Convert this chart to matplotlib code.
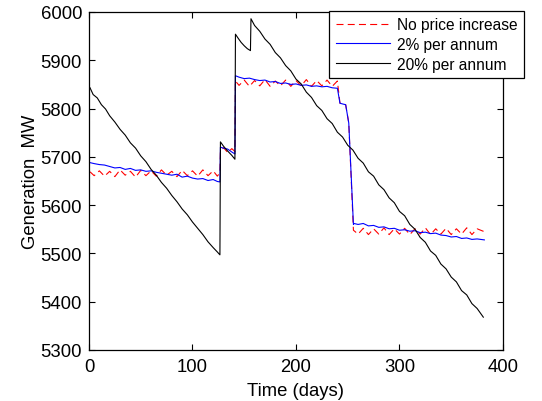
import numpy as np
import matplotlib
matplotlib.use('Agg')
import matplotlib.pyplot as plt

plt.rcParams['font.family'] = ['Liberation Sans', 'DejaVu Sans']

# readings (day, MW)
days_red = [1, 5, 10, 15, 20, 25, 30, 35, 40, 45, 50, 55, 60, 65, 70, 75, 80, 85, 90, 95,
            100, 105, 110, 115, 120, 124, 126.5,
            127, 130, 134, 138, 141,
            141.5, 145, 150, 155, 160, 165, 170, 175, 180, 185, 190, 195, 200, 205, 210,
            215, 220, 225, 230, 235, 240, 242.5, 248, 251, 255.5,
            260, 265, 270, 275, 280, 285, 290, 295, 300, 305, 310, 315, 320, 325, 330,
            335, 340, 345, 350, 355, 360, 365, 370, 375, 382]
mw_red = [5669, 5661, 5671, 5660, 5670, 5659, 5673, 5662, 5670, 5658, 5672, 5661, 5671, 5660,
          5673, 5662, 5670, 5659, 5672, 5661, 5671, 5660, 5673, 5661, 5671, 5660, 5667,
          5710, 5719, 5709, 5717, 5711,
          5857, 5848, 5859, 5846, 5858, 5847, 5860, 5846, 5857, 5847, 5859, 5846, 5858, 5847,
          5860, 5846, 5858, 5847, 5859, 5846, 5857, 5811, 5808, 5770, 5548,
          5540, 5552, 5539, 5551, 5540, 5553, 5539, 5551, 5540, 5552, 5539, 5551, 5540, 5553,
          5539, 5551, 5540, 5552, 5539, 5551, 5540, 5553, 5539, 5551, 5545]

days_blue = [1, 5, 10, 15, 20, 25, 30, 35, 40, 45, 50, 55, 60, 65, 70, 75, 80, 85, 90, 95,
             100, 105, 110, 115, 120, 124, 126.5,
             127, 130, 134, 138, 141,
             141.5, 145, 150, 155, 160, 165, 170, 175, 180, 185, 190, 195, 200, 205, 210,
             215, 220, 225, 230, 235, 240, 242.5, 246, 248, 251, 255.5,
             256, 260, 265, 270, 275, 280, 285, 290, 295, 300, 305, 310, 315, 320, 325, 330,
             335, 340, 345, 350, 355, 360, 365, 370, 375, 382]
mw_blue = [5688, 5686, 5684, 5683, 5680, 5677, 5678, 5674, 5676, 5672, 5673, 5670, 5671, 5668,
           5666, 5664, 5662, 5664, 5658, 5660, 5656, 5654, 5655, 5651, 5653, 5649, 5648,
           5720, 5718, 5716, 5710, 5706,
           5868, 5865, 5862, 5863, 5860, 5858, 5859, 5855, 5856, 5852, 5853, 5850, 5851, 5848,
           5849, 5846, 5847, 5845, 5846, 5843, 5842, 5811, 5809, 5808, 5770, 5560,
           5562, 5560, 5562, 5557, 5558, 5554, 5555, 5551, 5552, 5548, 5549, 5546, 5547, 5543,
           5544, 5541, 5542, 5538, 5537, 5534, 5535, 5531, 5532, 5529, 5530, 5528]

days_black = [1, 4, 8, 12, 16, 20, 25, 30, 35, 40, 45, 50, 55, 60, 65, 70, 75, 80, 85, 90,
              95, 100, 105, 110, 115, 120, 124, 126.5,
              127, 130, 134, 138, 141,
              141.5, 144, 147, 150, 153, 156,
              156.5, 160, 165, 170, 175, 180, 185, 190, 195, 200, 205, 210, 215, 220, 225,
              230, 235, 240, 245, 250, 255, 260, 265, 270, 275, 280, 285, 290, 295, 300, 305,
              310, 315, 320, 325, 330, 335, 340, 345, 350, 355, 360, 365, 370, 375, 381]
mw_black = [5843, 5829, 5822, 5808, 5799, 5785, 5772, 5757, 5745, 5729, 5718, 5702, 5690, 5674,
            5662, 5647, 5635, 5620, 5607, 5592, 5580, 5565, 5552, 5539, 5524, 5512, 5503, 5497,
            5731, 5722, 5712, 5703, 5695,
            5954, 5946, 5937, 5930, 5924, 5920,
            5986, 5972, 5960, 5944, 5933, 5916, 5905, 5889, 5878, 5861, 5851, 5834, 5823, 5806,
            5796, 5779, 5769, 5751, 5741, 5724, 5714, 5697, 5687, 5669, 5660, 5642, 5632, 5615,
            5605, 5587, 5578, 5560, 5550, 5533, 5523, 5505, 5496, 5478, 5468, 5451, 5441, 5423,
            5414, 5396, 5386, 5368]

fig = plt.figure(figsize=(5.42, 4.02), dpi=100)
ax = fig.add_axes([0.1642, 0.1269, 0.7638, 0.8408])

ax.plot(days_red, mw_red, color='red', linestyle=(0, (6.3, 3.8)), linewidth=0.8,
        label='No price increase')
ax.plot(days_blue, mw_blue, color='blue', linewidth=0.8, label='2% per annum')
ax.plot(days_black, mw_black, color='black', linewidth=0.8, label='20% per annum')

ax.set_xlim(0, 400)
ax.set_ylim(5300, 6000)
ax.set_xticks(np.arange(0, 401, 100))
ax.set_yticks(np.arange(5300, 6001, 100))
ax.tick_params(direction='in', length=4, width=0.8, top=True, right=True,
               labelsize=13.3)
ax.tick_params(axis='x', pad=6)
ax.tick_params(axis='y', pad=5)
for s in ax.spines.values():
    s.set_linewidth(0.9)

ax.set_xlabel('Time (days)', fontsize=13.3, labelpad=5)
ax.set_ylabel('Generation  MW', fontsize=13.3, labelpad=1)

leg = ax.legend(loc='upper right', bbox_to_anchor=(524 / 542, 1 - 12 / 402),
                bbox_transform=fig.transFigure, fontsize=11.2, handlelength=3.5,
                handletextpad=0.45, labelspacing=0.3, borderpad=0.4,
                borderaxespad=0, fancybox=False, framealpha=1)
leg.get_frame().set_edgecolor('black')
leg.get_frame().set_linewidth(0.9)

fig.savefig('out.png', dpi=100)
